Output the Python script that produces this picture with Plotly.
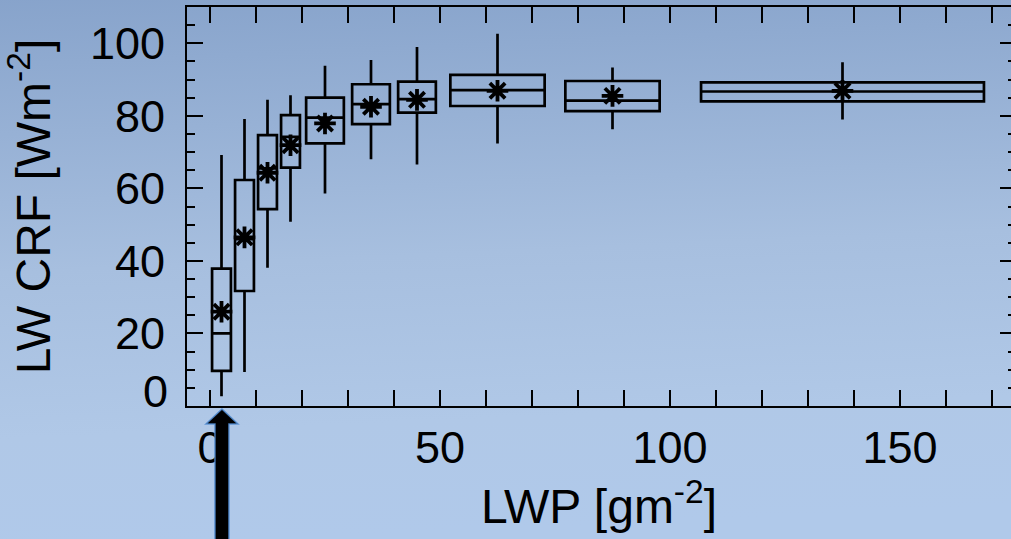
import base64
import plotly.graph_objects as go

# ---- data ----
bin_edges = [0, 5, 10, 15, 20, 30, 40, 50, 75, 100, 175]
whisker_low = [2.7, 9.4, 38.1, 50.8, 58.6, 68.0, 66.6, 72.4, 76.3, 79.0]
q1_vals = [9.7, 31.7, 54.3, 65.7, 72.4, 77.7, 80.9, 82.7, 81.3, 84.0]
median_vals = [20.0, 46.0, 65.5, 74.2, 79.5, 83.2, 84.6, 87.1, 84.2, 86.7]
q3_vals = [37.9, 62.3, 74.7, 80.2, 85.0, 88.7, 89.4, 91.3, 89.6, 89.2]
whisker_high = [69.2, 79.1, 84.4, 85.7, 93.8, 95.4, 99.0, 102.6, 93.3, 94.8]
mean_vals = [26.0, 46.5, 64.3, 71.9, 77.9, 82.5, 84.4, 86.9, 85.5, 86.9]

y_tick_vals = [20, 40, 60, 80, 100]
x_title = "LWP [gm<sup>-2</sup>]"
y_title = "LW CRF [Wm<sup>-2</sup>]"

# ---- styling ----
FONT = "Liberation Sans, Arial, Helvetica, sans-serif"
BOX_FRAC = 0.82
W, H = 1011, 539
ML, MR, MT, MB = 187, 0, 7, 133
Y_RANGE = [0, 110]

centers = [(a + b) / 2 for a, b in zip(bin_edges[:-1], bin_edges[1:])]
widths = [(b - a) * BOX_FRAC for a, b in zip(bin_edges[:-1], bin_edges[1:])]

fig = go.Figure()
for i, c in enumerate(centers):
    fig.add_trace(go.Box(
        x=[c], q1=[q1_vals[i]], median=[median_vals[i]], q3=[q3_vals[i]],
        lowerfence=[whisker_low[i]], upperfence=[whisker_high[i]],
        width=widths[i], orientation="v",
        fillcolor="rgba(0,0,0,0)", line=dict(color="black", width=2.7),
        whiskerwidth=0, boxpoints=False, showlegend=False,
    ))

fig.add_trace(go.Scatter(
    x=centers, y=mean_vals, mode="markers", showlegend=False,
    marker=dict(symbol="asterisk-open", size=18, color="black",
                line=dict(color="black", width=3.8)),
))

# invisible trace on the right-hand axis so its ticks are drawn
fig.add_trace(go.Scatter(x=[centers[0]], y=[mean_vals[0]], yaxis="y2", mode="markers",
                         marker=dict(opacity=0), showlegend=False, hoverinfo="skip"))

# background gradient (slide background)
svg = ('<svg xmlns="http://www.w3.org/2000/svg" width="1011" height="539" '
       'preserveAspectRatio="none"><defs><linearGradient id="g" x1="0" y1="0" x2="0.08" y2="1">'
       '<stop offset="0" stop-color="#87a3cb"/>'
       '<stop offset="0.5" stop-color="#a7bfdf"/>'
       '<stop offset="0.8" stop-color="#b0c8e7"/>'
       '<stop offset="1" stop-color="#b0c9ea"/>'
       '</linearGradient></defs><rect width="1011" height="539" fill="url(#g)"/></svg>')
src = "data:image/svg+xml;base64," + base64.b64encode(svg.encode()).decode()
pw, ph = W - ML - MR, H - MT - MB
fig.add_layout_image(dict(
    source=src, xref="paper", yref="paper",
    x=-ML / pw - 0.01, y=1 + MT / ph + 0.01,
    sizex=W / pw + 0.03, sizey=H / ph + 0.03,
    xanchor="left", yanchor="top", sizing="stretch", layer="below",
))

# arrow pointing at the first bin
ARROW_X = 2.6
fig.add_shape(
    type="path", xref="x", yref="paper", xsizemode="pixel", ysizemode="pixel",
    xanchor=ARROW_X, yanchor=0,
    path="M -7,-150 L -7,-18 L -16,-18 L 0,-3 L 16,-18 L 7,-18 L 7,-150 Z",
    fillcolor="black", line=dict(color="rgba(80,140,210,0.85)", width=1.5),
    layer="above",
)

# the "0" label of the y axis sits slightly above the axis in the reference
fig.add_annotation(
    text="0", xref="paper", x=0, xanchor="right", xshift=-17,
    yref="y", y=4, showarrow=False, font=dict(family=FONT, size=45, color="black"),
)

axis_common = dict(
    showgrid=False, zeroline=False, showline=True, linecolor="black", linewidth=2,
    ticks="inside", ticklen=16, tickwidth=2, tickcolor="black",
    tickfont=dict(family=FONT, size=45, color="black"),
)
fig.update_xaxes(
    **axis_common, mirror="allticks", range=[-5, (W - ML - MR) / 4.6 - 5], tick0=0, dtick=50,
    minor=dict(dtick=10, ticklen=8, tickwidth=2, tickcolor="black", ticks="inside"),
    ticklabelstandoff=1,
    title=dict(text=x_title, font=dict(family=FONT, size=48, color="black"), standoff=16),
)
fig.update_yaxes(
    **axis_common, mirror=False, range=Y_RANGE, tickmode="array", tickvals=y_tick_vals,
    minor=dict(tick0=0, dtick=5, ticklen=8, tickwidth=2, tickcolor="black", ticks="inside"),
    ticklabelstandoff=11,
    title=dict(text=y_title, font=dict(family=FONT, size=48, color="black"), standoff=32),
)

fig.update_layout(
    width=W, height=H, margin=dict(l=ML, r=MR, t=MT, b=MB, autoexpand=False),
    paper_bgcolor="#a0b9dc", plot_bgcolor="rgba(0,0,0,0)",
    boxmode="overlay", showlegend=False,
    yaxis2=dict(
        overlaying="y", side="right", anchor="x", range=Y_RANGE,
        showgrid=False, zeroline=False, showline=False, showticklabels=False,
        ticks="inside", ticklen=11, tickwidth=2, tickcolor="black",
        tickmode="array", tickvals=y_tick_vals,
        minor=dict(tick0=0, dtick=5, ticklen=3, tickwidth=2, tickcolor="black", ticks="inside"),
    ),
)

fig.write_html("out.html")
